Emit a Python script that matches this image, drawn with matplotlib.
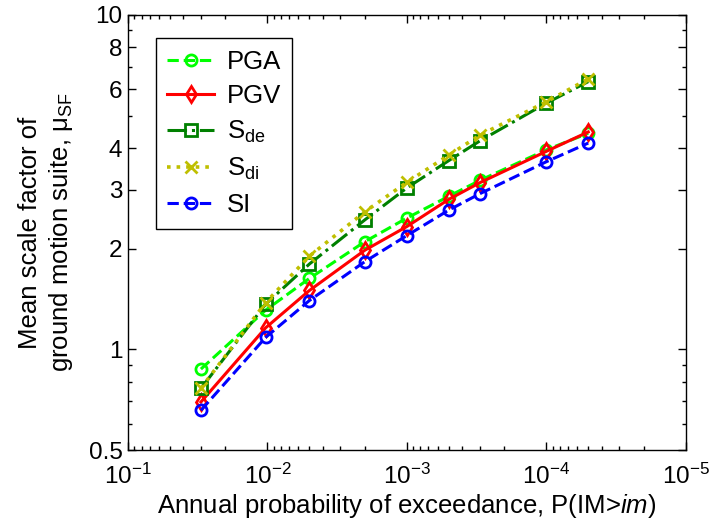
import matplotlib
matplotlib.use("Agg")
import matplotlib.pyplot as plt
from matplotlib.ticker import FixedLocator, NullFormatter, LogLocator, LogFormatterMathtext
import numpy as np

plt.rcParams['font.family'] = ['Liberation Sans', 'DejaVu Sans']
plt.rcParams['mathtext.fontset'] = 'custom'
plt.rcParams['mathtext.rm'] = 'Liberation Sans'
plt.rcParams['mathtext.it'] = 'Liberation Sans:italic'

# annual probability of exceedance for each hazard level
prob = [0.03, 0.0103, 0.005, 0.002, 0.001, 0.0005, 0.0003, 0.0001, 0.00005]

# mean scale factor per intensity measure
pga = [0.873, 1.31, 1.63, 2.10, 2.47, 2.87, 3.20, 3.95, 4.43]
pgv = [0.696, 1.16, 1.50, 1.98, 2.33, 2.81, 3.15, 3.91, 4.47]
sde = [0.764, 1.365, 1.80, 2.44, 3.04, 3.67, 4.20, 5.45, 6.32]
sdi = [0.765, 1.38, 1.90, 2.58, 3.16, 3.81, 4.37, 5.50, 6.44]
si = [0.657, 1.086, 1.40, 1.83, 2.19, 2.61, 2.92, 3.64, 4.14]

fs = 17.5      # tick labels
lfs = 18.5     # axis labels and legend

fig = plt.figure(figsize=(7.1, 5.28), dpi=100)
ax = fig.add_axes([0.1803, 0.1477, 0.9658 - 0.1803, 0.9716 - 0.1477])

lw = 2.2
ax.plot(prob, pga, '--', color=(0, 1, 0), lw=lw, marker='o', ms=8, mfc='none', mew=2, label='PGA')
ax.plot(prob, pgv, '-', color=(1, 0, 0), lw=lw, marker='d', ms=8, mfc='none', mew=2, label='PGV')
ax.plot(prob, sde, '-.', color=(0, 0.5, 0), lw=lw, marker='s', ms=8, mfc='none', mew=2, label='S$_{\\rm de}$')
ax.plot(prob, sdi, ':', color=(0.75, 0.75, 0), lw=lw + 0.4, marker='x', ms=8, mew=2, label='S$_{\\rm di}$')
ax.plot(prob, si, '--', color=(0, 0, 1), lw=lw, marker='o', ms=8, mfc='none', mew=2, label='SI')

ax.set_xscale('log')
ax.set_yscale('log')
ax.set_xlim(1e-1, 1e-5)
ax.set_ylim(0.5, 10)

ax.xaxis.set_major_locator(LogLocator(base=10, numticks=10))
ax.xaxis.set_major_formatter(LogFormatterMathtext())
ax.xaxis.set_minor_locator(LogLocator(base=10, subs=np.arange(2, 10), numticks=10))
ax.xaxis.set_minor_formatter(NullFormatter())

ax.yaxis.set_major_locator(FixedLocator([0.5, 1, 2, 3, 4, 6, 8, 10]))
ax.set_yticklabels(['0.5', '1', '2', '3', '4', '6', '8', '10'])
ax.yaxis.set_minor_locator(FixedLocator([0.6, 0.7, 0.8, 0.9, 5, 7, 9]))
ax.yaxis.set_minor_formatter(NullFormatter())

ax.tick_params(which='both', direction='in', top=True, right=True, labelsize=fs, width=1)
ax.tick_params(which='major', length=6)
ax.tick_params(which='minor', length=3)
ax.tick_params(axis='x', pad=10)
ax.tick_params(axis='y', pad=4)
for s in ax.spines.values():
    s.set_linewidth(1)

ax.set_xlabel('Annual probability of exceedance, P(IM>$\\it{im)}$', fontsize=lfs, labelpad=2)
ax.set_ylabel('Mean scale factor of\nground motion suite, \u03bc$_{\\rm SF}$', fontsize=lfs, labelpad=10)

leg = ax.legend(loc='upper left', bbox_to_anchor=(0.05, 0.947), fontsize=lfs, fancybox=False,
                edgecolor='black', framealpha=1, handlelength=1.8, labelspacing=0.42,
                borderpad=0.45, handletextpad=0.5, borderaxespad=0)
leg.get_frame().set_linewidth(1)

fig.savefig('out.png', dpi=100)
